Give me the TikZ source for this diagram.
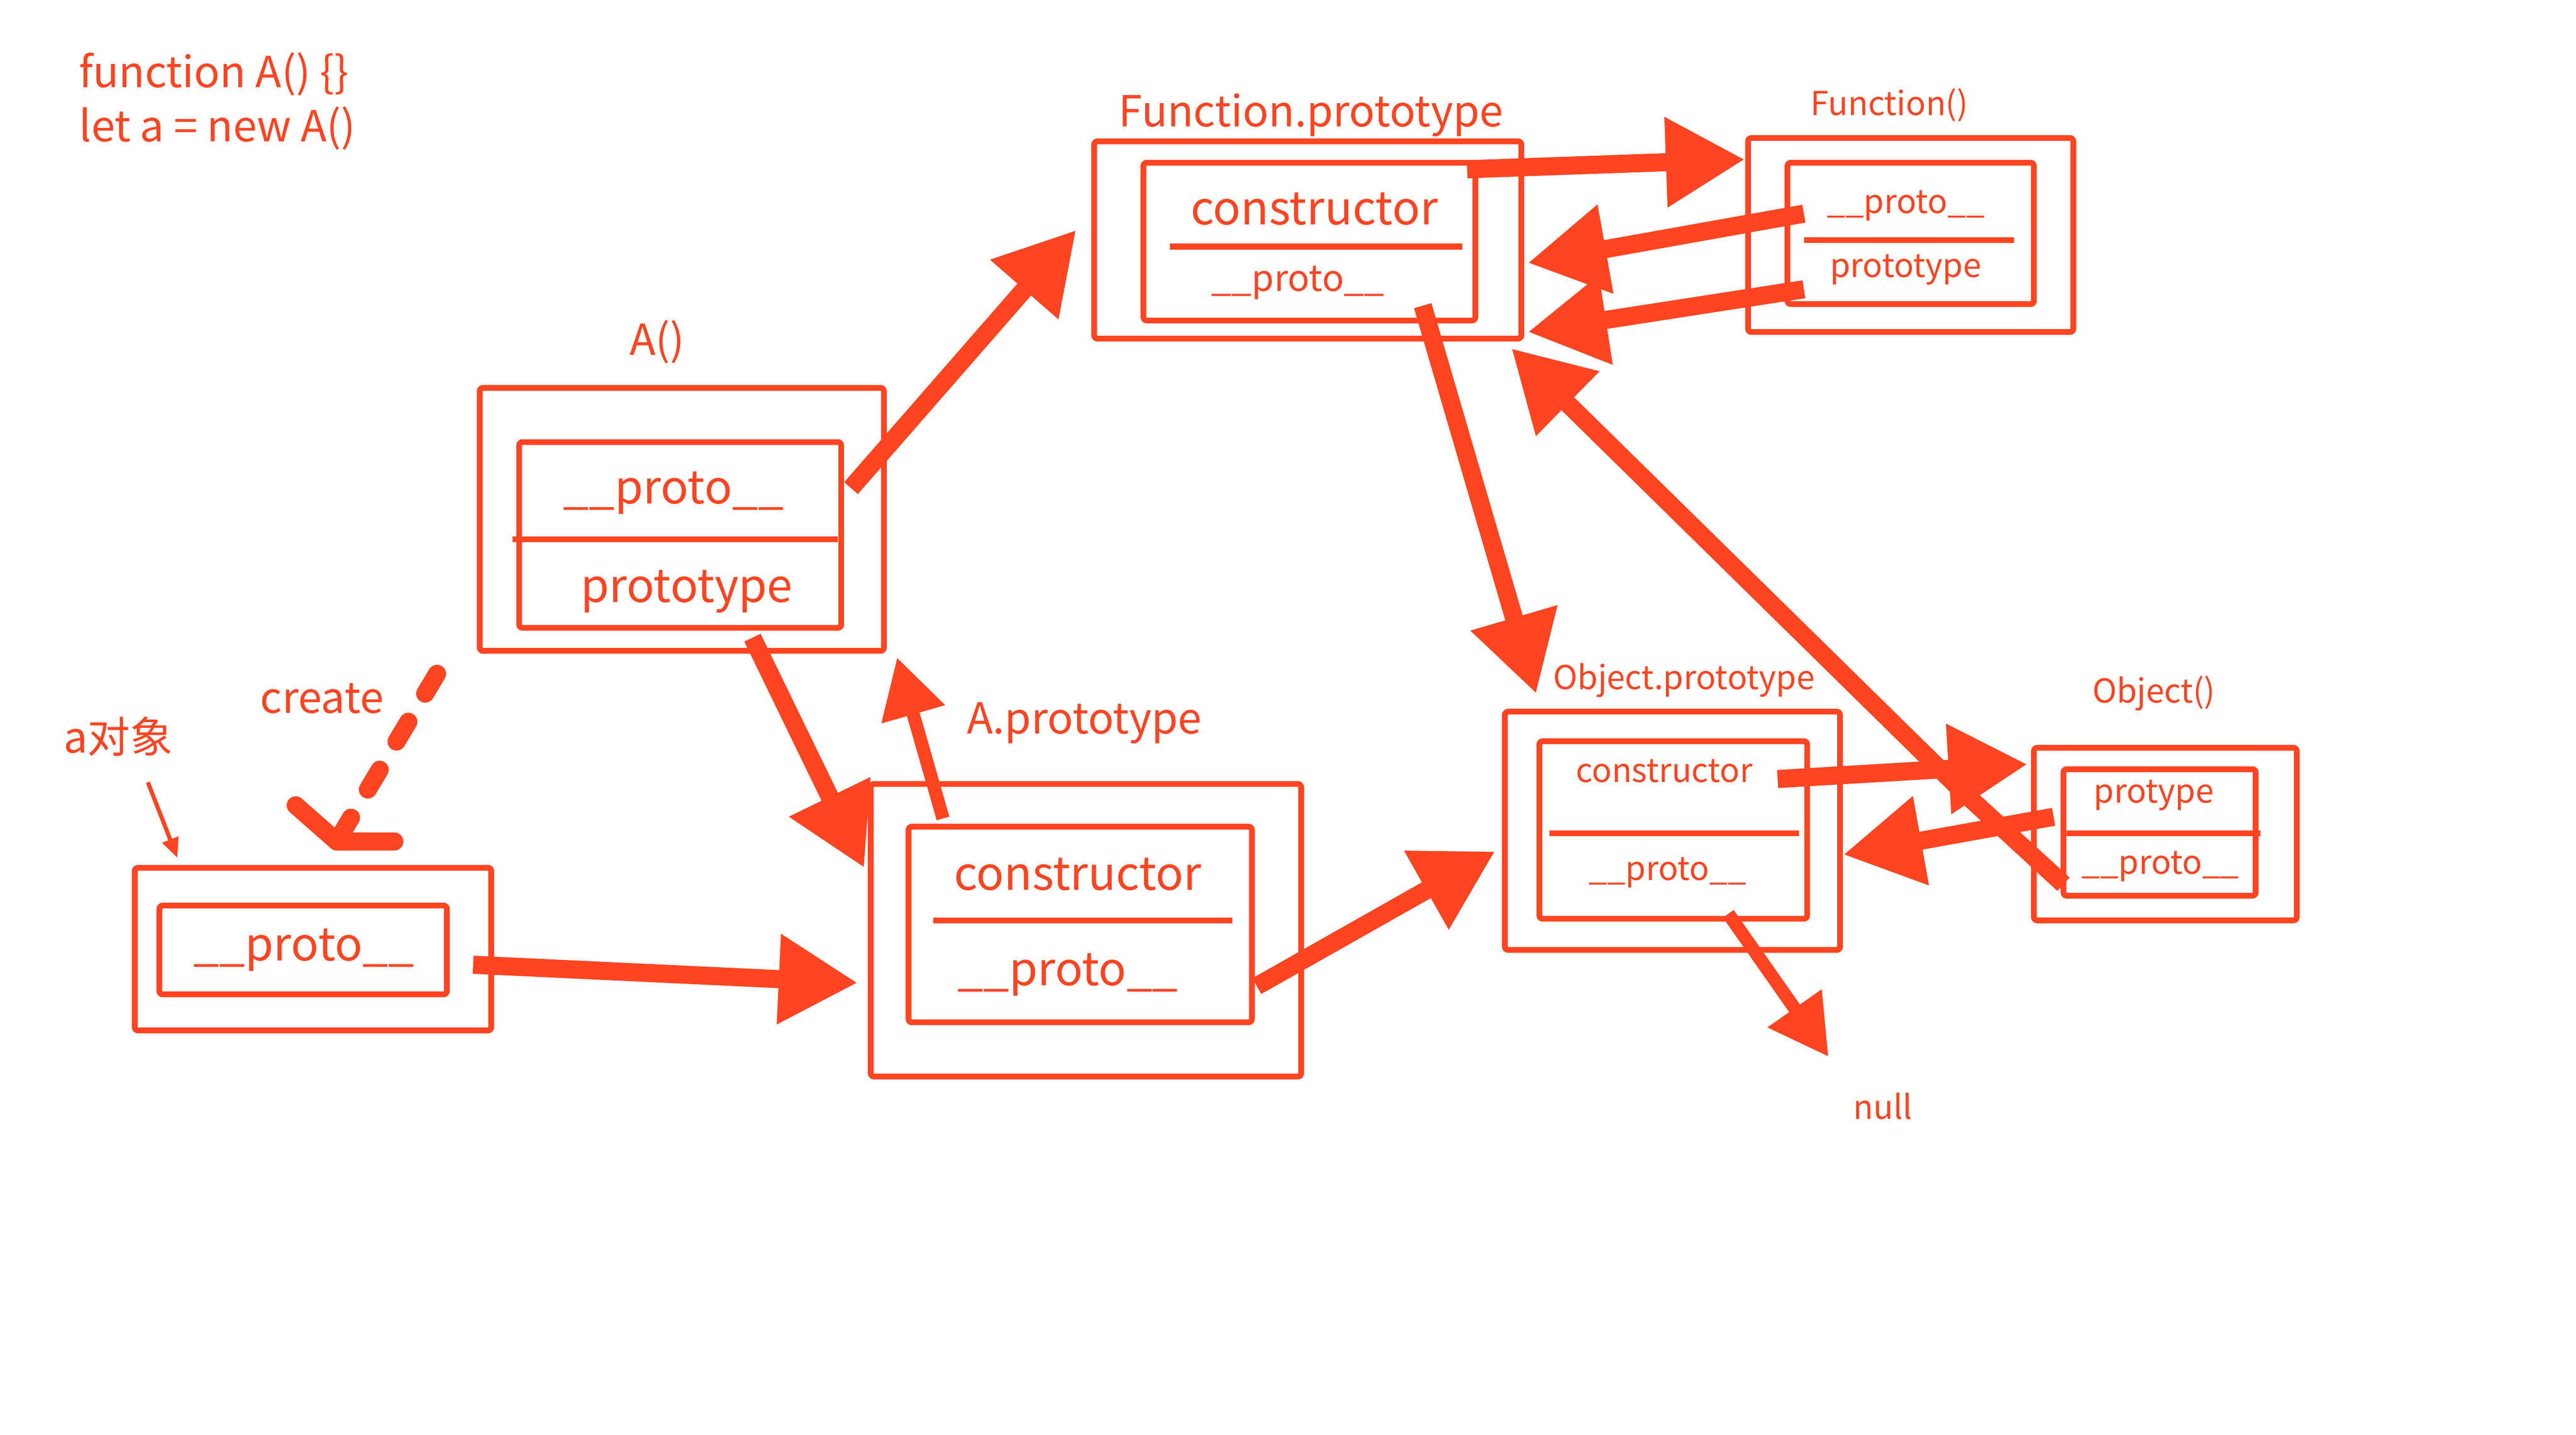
\documentclass[tikz,border=0pt]{standalone}
\usepackage{fontspec}
\setmainfont{Noto Sans CJK SC}
\usetikzlibrary{arrows.meta}
\definecolor{rd}{HTML}{FF4422}
\begin{document}
\begin{tikzpicture}[x=1pt,y=-1pt,
 bx/.style={draw=rd,line width=3.5pt,rounded corners=2pt},
 dv/.style={draw=rd,line width=3.5pt},
 t/.style={text=rd,inner sep=0pt,font=\fontsize{#1}{#1}\selectfont},
 fat/.style={draw=rd,line width=11pt,-{Triangle[length=48pt,width=52pt]}},
 mid/.style={draw=rd,line width=8pt,-{Triangle[length=36pt,width=38pt]}}]
\useasboundingbox (0,0) rectangle (1568,873);
\fill[white] (0,0) rectangle (1568,873);
\node[t=26,anchor=west] (c1) at (48,45) {function A() \{\}};
\node[t=26,anchor=west] (c2) at (48,78) {let a = new A()};
% Function.prototype
\draw[bx] (666,86) rectangle (926,206); \draw[bx] (696,99) rectangle (898,195);
\draw[dv] (712,150) -- (890,150);
\node[t=28] (fpc) at (800,127) {constructor};
\node[t=22] (fpp) at (790,172) {\_\_proto\_\_};
\node[t=26] (fpl) at (798,70) {Function.prototype};
% Function()
\draw[bx] (1064,84) rectangle (1262,202); \draw[bx] (1088,99) rectangle (1238,185);
\draw[dv] (1098,146) -- (1226,146);
\node[t=20] (fp) at (1160,125) {\_\_proto\_\_};
\node[t=20] (fpt) at (1160,164) {prototype};
\node[t=20] (fl) at (1150,64) {Function()};
% A()
\draw[bx] (292,236) rectangle (538,396); \draw[bx] (316,269) rectangle (512,382);
\draw[dv] (312,328) -- (510,328);
\node[t=28] (ap) at (410,300) {\_\_proto\_\_};
\node[t=28] (apt) at (418,360) {prototype};
\node[t=26] (al) at (400,208) {A()};
% A.prototype
\draw[bx] (530,477) rectangle (792,655); \draw[bx] (553,503) rectangle (762,622);
\draw[dv] (568,560) -- (750,560);
\node[t=28] (apc) at (656,532) {constructor};
\node[t=28] (app) at (650,593) {\_\_proto\_\_};
\node[t=26] (apl) at (660,440) {A.prototype};
% a
\draw[bx] (82,528) rectangle (299,627); \draw[bx] (97,551) rectangle (272,605);
\node[t=28] (aa) at (185,578) {\_\_proto\_\_};
\node[t=26] (aal) at (72,448) {a对象};
% Object.prototype
\draw[bx] (916,433) rectangle (1120,578); \draw[bx] (937,451) rectangle (1100,559);
\draw[dv] (943,507) -- (1095,507);
\node[t=20] (opc) at (1013,469) {constructor};
\node[t=20] (opp) at (1015,531) {\_\_proto\_\_};
\node[t=20] (opl) at (1025,414) {Object.prototype};
% Object()
\draw[bx] (1238,455) rectangle (1398,560); \draw[bx] (1256,468) rectangle (1373,545);
\draw[dv] (1258,507) -- (1376,507);
\node[t=20] (ot) at (1311,484) {protype};
\node[t=20] (op) at (1315,527) {\_\_proto\_\_};
\node[t=20] (ol) at (1311,422) {Object()};
\node[t=20] (nl) at (1146,673) {null};
\node[t=26] (cr) at (196,425) {create};
% arrows
\coordinate (a1) at (518,297); \coordinate (b1) at (655,140);
\draw[fat] (a1) -- (b1);
\coordinate (a2) at (893,103); \coordinate (b2) at (1062,97);
\draw[fat] (a2) -- (b2);
\coordinate (a3) at (1098,130); \coordinate (b3) at (930,160);
\draw[fat] (a3) -- (b3);
\coordinate (a4) at (1098,176); \coordinate (b4) at (930,202);
\draw[fat] (a4) -- (b4);
\coordinate (a5) at (866,186); \coordinate (b5) at (935,422);
\draw[fat] (a5) -- (b5);
\coordinate (a6) at (1256,538); \coordinate (m6) at (1195,482); \coordinate (b6) at (920,212);
\draw[fat,line join=round] (a6) -- (m6) -- (b6);
\coordinate (a7) at (1082,474); \coordinate (b7) at (1234,465);
\draw[fat] (a7) -- (b7);
\coordinate (a8) at (1250,497); \coordinate (b8) at (1122,520);
\draw[fat] (a8) -- (b8);
\coordinate (a9) at (1052,556); \coordinate (b9) at (1113,643);
\draw[mid] (a9) -- (b9);
\coordinate (a10) at (765,600); \coordinate (b10) at (910,518);
\draw[fat] (a10) -- (b10);
\coordinate (a11) at (458,388); \coordinate (b11) at (526,528);
\draw[fat] (a11) -- (b11);
\coordinate (a12) at (574,498); \coordinate (b12) at (546,400);
\draw[mid] (a12) -- (b12);
\coordinate (a13) at (288,587); \coordinate (b13) at (522,598);
\draw[fat] (a13) -- (b13);
\coordinate (a14) at (266,410); \coordinate (b14) at (205,512);
\draw[rd,line width=11pt,line cap=round,dash pattern=on 14pt off 20pt] (a14) -- (b14);
\coordinate (h1) at (180,490); \coordinate (h2) at (240,512);
\draw[rd,line width=11pt,line cap=round,line join=round] (h1) -- (b14) -- (h2);
\coordinate (a15) at (90,476); \coordinate (b15) at (108,522);
\draw[rd,line width=2.5pt,-{Triangle[length=12pt,width=10pt]}] (a15) -- (b15);
\end{tikzpicture}
\end{document}
